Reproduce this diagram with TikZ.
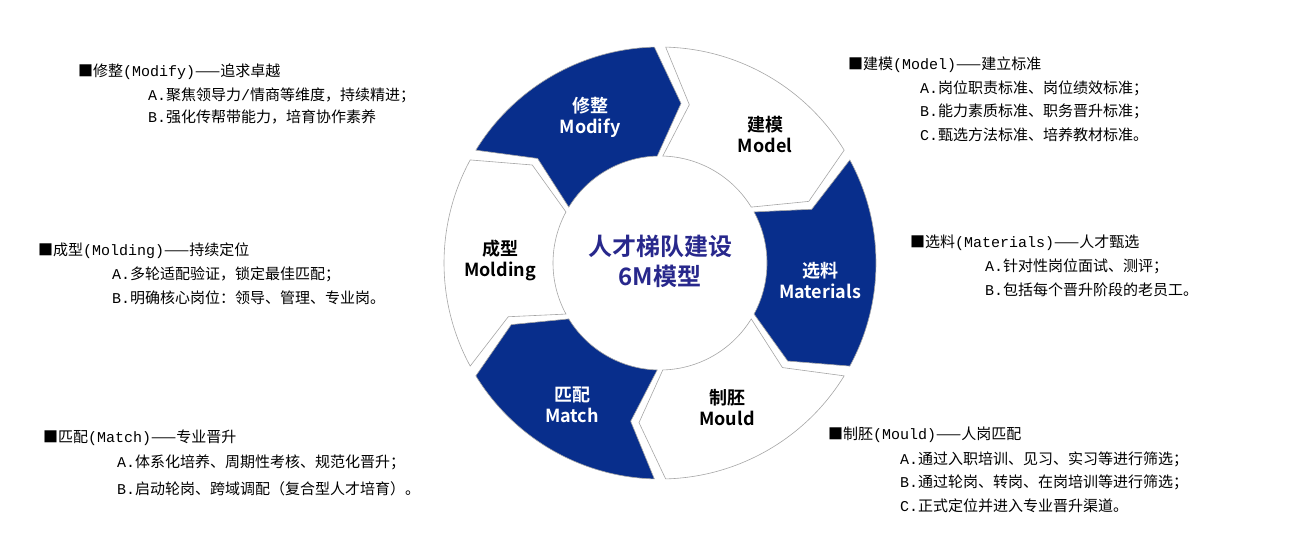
\documentclass[tikz,border=0pt]{standalone}
\usepackage{fontspec}
\setmainfont{Noto Sans CJK SC}
\newfontfamily\cjkb{Noto Sans CJK SC Bold}
\newfontfamily\latf{Liberation Mono}
\newcommand\lt[1]{{\latf #1}}
\definecolor{dblue}{RGB}{8,46,140}
\definecolor{ctext}{RGB}{40,40,140}
\begin{document}
\begin{tikzpicture}[x=1pt,y=1pt,
  seglabel/.style={font=\cjkb\fontsize{18}{21}\selectfont,align=center},
  side/.style={anchor=west,font=\fontsize{15}{17}\selectfont,inner sep=0pt}]
\useasboundingbox (0,0) rectangle (1296,-544);
\begin{scope}[shift={(660,-263)}]
\foreach \a/\f in {150/dblue,90/white,30/dblue,-30/white,-90/dblue,-150/white}{
  \pgfmathsetmacro\b{\a-60}
  \draw[fill=\f,draw=gray!70,line width=0.6pt]
    (\a-1.5:216) arc[start angle=\a-1.5,end angle=\b+1.5,radius=216pt]
    -- (\b+1.5-9:161) -- (\b+1.5:107)
    arc[start angle=\b+1.5,end angle=\a-1.5,radius=107pt]
    -- (\a-1.5-9:161) -- cycle;
}
\end{scope}
\node[seglabel,text=white] (modify) at (590,-117) {修整\\Modify};
\node[seglabel] (model) at (765,-134) {建模\\Model};
\node[seglabel,text=white] (materials) at (820,-280) {选料\\Materials};
\node[seglabel] (mould) at (727,-408) {制胚\\Mould};
\node[seglabel,text=white] (match) at (572,-405) {匹配\\Match};
\node[seglabel] (molding) at (500,-260) {成型\\Molding};
\node[font=\cjkb\fontsize{24}{30}\selectfont,text=ctext,align=center] (center) at (660,-261) {人才梯队建设\\6M模型};
% side texts
\node[side] (t1) at (78,-72) {■修整\lt{(Modify)}——追求卓越};
\node[side] (t1a) at (148,-95) {\lt{A.}聚焦领导力\lt{/}情商等维度，持续精进；};
\node[side] (t1b) at (148,-117) {\lt{B.}强化传帮带能力，培育协作素养};
\node[side] (t2) at (848,-65) {■建模\lt{(Model)}——建立标准};
\node[side] (t2a) at (920,-88) {\lt{A.}岗位职责标准、岗位绩效标准；};
\node[side] (t2b) at (920,-111) {\lt{B.}能力素质标准、职务晋升标准；};
\node[side] (t2c) at (920,-135) {\lt{C.}甄选方法标准、培养教材标准。};
\node[side] (t3) at (910,-243) {■选料\lt{(Materials)}——人才甄选};
\node[side] (t3a) at (985,-266) {\lt{A.}针对性岗位面试、测评；};
\node[side] (t3b) at (985,-290) {\lt{B.}包括每个晋升阶段的老员工。};
\node[side] (t4) at (38,-251) {■成型\lt{(Molding)}——持续定位};
\node[side] (t4a) at (112,-274) {\lt{A.}多轮适配验证，锁定最佳匹配；};
\node[side] (t4b) at (112,-298) {\lt{B.}明确核心岗位：领导、管理、专业岗。};
\node[side] (t5) at (43,-438) {■匹配\lt{(Match)}——专业晋升};
\node[side] (t5a) at (117,-462) {\lt{A.}体系化培养、周期性考核、规范化晋升；};
\node[side] (t5b) at (117,-489) {\lt{B.}启动轮岗、跨域调配（复合型人才培育）。};
\node[side] (t6) at (828,-435) {■制胚\lt{(Mould)}——人岗匹配};
\node[side] (t6a) at (900,-459) {\lt{A.}通过入职培训、见习、实习等进行筛选；};
\node[side] (t6b) at (900,-482) {\lt{B.}通过轮岗、转岗、在岗培训等进行筛选；};
\node[side] (t6c) at (900,-506) {\lt{C.}正式定位并进入专业晋升渠道。};
\end{tikzpicture}
\end{document}
